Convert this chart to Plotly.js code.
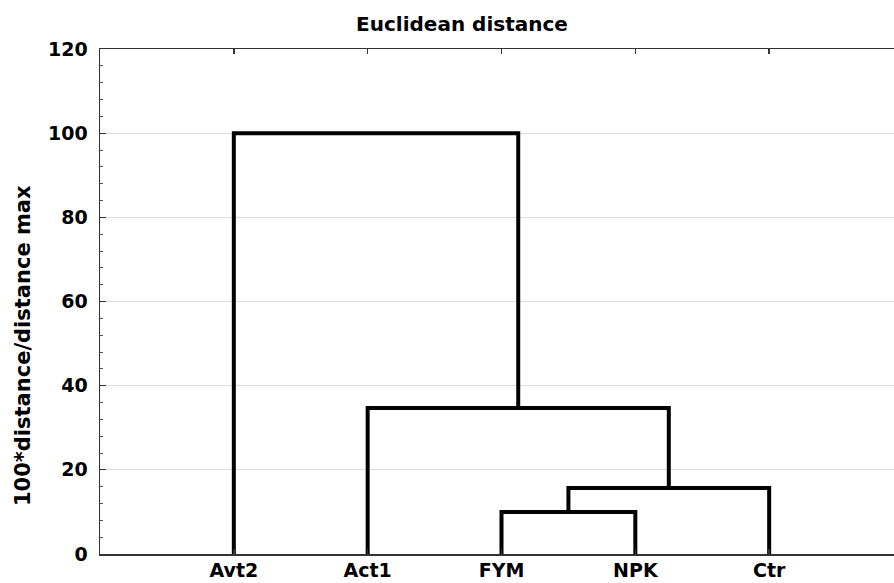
<!DOCTYPE html>
<html>
<head>
<meta charset="utf-8">
<script src="https://cdn.plot.ly/plotly-3.0.1.min.js"></script>
<style>
html,body{margin:0;padding:0;overflow:hidden;background:#fff;}
#chart{width:910px;height:583px;}
</style>
</head>
<body>
<div id="chart"></div>
<script>
// Leaves in dendrogram order
const leaves = ['Avt2', 'Act1', 'FYM', 'NPK', 'Ctr'];
// Linkage steps (cluster names C1..C4 created in order)
const mergeLeft   = ['FYM', 'C1',  'Act1', 'Avt2'];
const mergeRight  = ['NPK', 'Ctr', 'C2',   'C3'];
const mergeHeight = [10.0,  15.7,  34.7,   100];
// Axis
const yTicks = [0, 20, 40, 60, 80, 100, 120];

const pos = {}, hgt = {};
leaves.forEach((l, i) => { pos[l] = i + 1; hgt[l] = 0; });

const xs = [], ys = [];
mergeLeft.forEach((a, i) => {
  const b = mergeRight[i], h = mergeHeight[i];
  xs.push(pos[a], pos[a], pos[b], pos[b], null);
  ys.push(hgt[a], h, h, hgt[b], null);
  const name = 'C' + (i + 1);
  pos[name] = (pos[a] + pos[b]) / 2;
  hgt[name] = h;
});

const fontFam = 'DejaVu Sans, Arial, sans-serif';

const trace = {
  x: xs, y: ys, type: 'scatter', mode: 'lines',
  line: {color: '#000', width: 4, shape: 'linear'},
  connectgaps: false, hoverinfo: 'skip', showlegend: false
};

const layout = {
  width: 910, height: 583,
  margin: {l: 100, r: 7, t: 49, b: 29, pad: 0},
  paper_bgcolor: '#fff', plot_bgcolor: '#fff',
  title: {
    text: 'Euclidean distance',
    font: {family: fontFam, size: 20, weight: 'bold', color: '#000'},
    xref: 'container', x: 462 / 910, xanchor: 'center',
    yref: 'container', y: 1 - 24 / 583, yanchor: 'middle'
  },
  xaxis: {
    range: [0, 6], tickvals: leaves.map((l, i) => i + 1), ticktext: leaves,
    showgrid: false, zeroline: false,
    showline: true, linecolor: '#333', linewidth: 1.5, mirror: 'ticks',
    ticks: 'inside', ticklen: 5, tickcolor: '#333', tickwidth: 1.5,
    tickfont: {family: fontFam, size: 19, weight: 'bold', color: '#000'},
    ticklabelstandoff: -1
  },
  yaxis: {
    range: [0, 120], tickvals: yTicks, ticktext: yTicks.map(String),
    showgrid: true, gridcolor: '#dcdcdc', gridwidth: 1, zeroline: false,
    showline: true, linecolor: '#333', linewidth: 1.5, mirror: 'ticks',
    ticks: 'inside', ticklen: 6, tickcolor: '#333', tickwidth: 1,
    minor: {dtick: 4, ticks: 'inside', ticklen: 3, tickcolor: '#555', showgrid: false},
    tickfont: {family: fontFam, size: 19, weight: 'bold', color: '#000'},
    ticklabelstandoff: 7
  },
  annotations: [{
    text: '100*distance/distance max', textangle: -90,
    xref: 'paper', yref: 'paper',
    x: (23 - 100) / 803, y: (554 - 346) / 505,
    xanchor: 'center', yanchor: 'middle', showarrow: false,
    font: {family: fontFam, size: 21, weight: 'bold', color: '#000'}
  }]
};

Plotly.newPlot('chart', [trace], layout, {displayModeBar: false, staticPlot: true});
</script>
</body>
</html>
